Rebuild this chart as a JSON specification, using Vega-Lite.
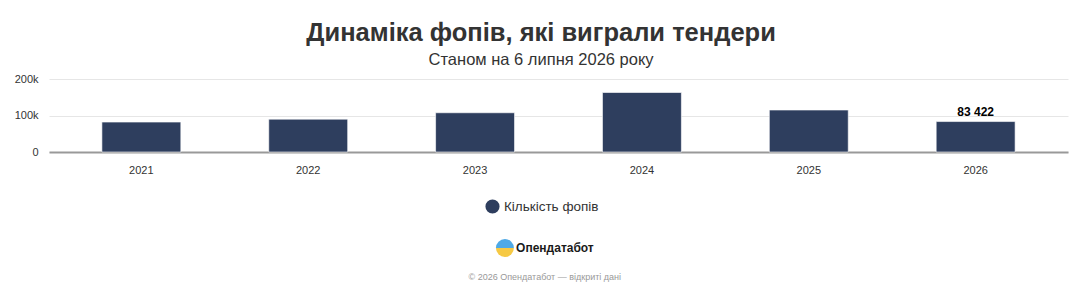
{
  "$schema": "https://vega.github.io/schema/vega-lite/v6.json",
  "padding": {"left": 14, "top": 21, "right": 12, "bottom": 4},
  "background": "#ffffff",
  "title": {
    "text": "Динаміка фопів, які виграли тендери",
    "subtitle": "Станом на 6 липня 2026 року",
    "anchor": "middle",
    "font": "Liberation Sans",
    "fontSize": 25.5,
    "fontWeight": "bold",
    "color": "#333333",
    "subtitleFont": "Liberation Sans",
    "subtitleFontSize": 16.5,
    "subtitleColor": "#333333",
    "subtitlePadding": 5,
    "offset": 5
  },
  "config": {
    "view": {"stroke": null},
    "font": "Liberation Sans",
    "locale": {"number": {"decimal": ",", "thousands": " ", "grouping": [3], "currency": ["", ""]}}
  },
  "vconcat": [
    {
      "width": 1019,
      "height": 73,
      "data": {"values": [
        {"year": "2021", "count": 82000, "series": "Кількість фопів"},
        {"year": "2022", "count": 90000, "series": "Кількість фопів"},
        {"year": "2023", "count": 107500, "series": "Кількість фопів"},
        {"year": "2024", "count": 163000, "series": "Кількість фопів"},
        {"year": "2025", "count": 115000, "series": "Кількість фопів"},
        {"year": "2026", "count": 83422, "series": "Кількість фопів"}
      ]},
      "encoding": {
        "x": {"field": "year", "type": "ordinal",
          "scale": {"paddingInner": 0.527, "paddingOuter": 0.317},
          "axis": {"title": null, "labelAngle": 0, "labelFontSize": 11, "labelColor": "#333333",
            "labelPadding": 12, "ticks": false, "domainColor": "#999999", "domainWidth": 2}},
        "y": {"field": "count", "type": "quantitative",
          "scale": {"domain": [0, 200000]},
          "axis": {"title": null, "values": [0, 100000, 200000],
            "labelExpr": "datum.value == 0 ? '0' : format(datum.value / 1000, 'd') + 'k'",
            "labelFontSize": 11, "labelColor": "#333333", "labelPadding": 11,
            "ticks": false, "domain": false, "gridColor": "#e6e6e6", "gridWidth": 1}}
      },
      "layer": [
        {
          "mark": {"type": "bar", "stroke": "#ffffff", "strokeWidth": 1, "strokeOpacity": 0.6},
          "encoding": {
            "color": {"field": "series", "type": "nominal",
              "scale": {"range": ["#2e3e5e"]},
              "legend": {"title": null, "orient": "none", "legendX": 436, "legendY": 120,
                "symbolType": "circle", "symbolSize": 200, "symbolStrokeWidth": 0,
                "labelFontSize": 13.5, "labelColor": "#333333", "labelFont": "Liberation Sans"}}
          }
        },
        {
          "transform": [{"filter": "datum.year == '2026'"}],
          "mark": {"type": "text", "baseline": "bottom", "dy": -3, "fontSize": 12, "fontWeight": "bold", "color": "#000000"},
          "encoding": {"text": {"field": "count", "type": "quantitative", "format": ","}}
        }
      ]
    },
    {
      "title": {"text": "© 2026 Опендатабот — відкриті дані", "orient": "bottom", "anchor": "middle",
        "fontSize": 9, "fontWeight": "normal", "color": "#999999", "offset": 16},
      "hconcat": [
        {
          "width": 18,
          "height": 18,
          "data": {"values": [
            {"part": "top", "share": 1},
            {"part": "bottom", "share": 1}
          ]},
          "mark": {"type": "arc", "outerRadius": 9},
          "encoding": {
            "theta": {"field": "share", "type": "quantitative", "stack": true,
              "scale": {"range": [-1.5708, 4.7124]}},
            "order": {"field": "part", "sort": "descending"},
            "color": {"field": "part", "type": "nominal",
              "scale": {"domain": ["top", "bottom"], "range": ["#4ea9e6", "#f6c944"]}, "legend": null}
          }
        },
        {
          "width": 76,
          "height": 18,
          "data": {"values": [{"name": "Опендатабот"}]},
          "mark": {"type": "text", "fontSize": 12, "fontWeight": "bold", "color": "#1a1a1a", "align": "center", "baseline": "middle"},
          "encoding": {"text": {"field": "name", "type": "nominal"}}
        }
      ],
      "spacing": 2
    }
  ],
  "center": true,
  "spacing": 25,
  "resolve": {"scale": {"color": "independent"}, "legend": {"color": "independent"}}
}
